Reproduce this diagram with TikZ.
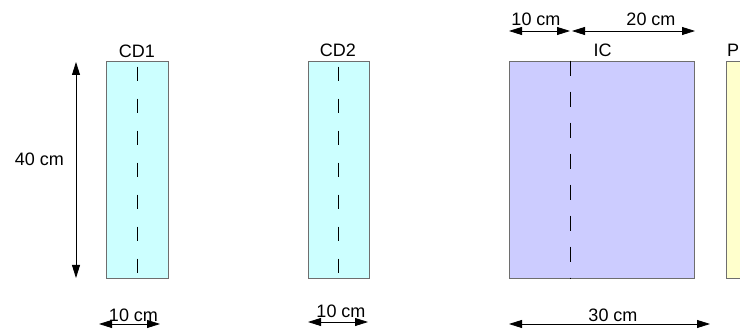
\documentclass[tikz,border=0pt]{standalone}
\usepackage{fontspec}
\setmainfont{Liberation Sans}
\usetikzlibrary{arrows.meta}
\definecolor{cdfill}{RGB}{204,255,255}
\definecolor{icfill}{RGB}{204,204,255}
\definecolor{pfill}{RGB}{255,255,204}
\definecolor{boxline}{RGB}{110,110,110}
\begin{document}
\begin{tikzpicture}[x=1pt, y=1pt, font=\fontsize{18}{21}\selectfont,
    box/.style = {draw=boxline, line width=0.8pt, minimum height=217pt, inner sep=0pt},
    mid/.style = {line width=0.9pt, dash pattern=on 14pt off 18pt, dash phase=26pt},
    dim/.style = {line width=0.8pt, {Triangle[length=13pt,width=8pt]}-{Triangle[length=13pt,width=8pt]}}]
    \clip (0,0) rectangle (740,331);
    % the four boxes
    \node[box, fill=cdfill, minimum width=62pt] (cd1) at (137,161.5) {};
    \node[box, fill=cdfill, minimum width=61pt] (cd2) at (338.5,161.5) {};
    \node[box, fill=icfill, minimum width=185pt] (ic) at (601.5,161.5) {};
    \node[box, fill=pfill, minimum width=74pt] (p) at (763,161.5) {};
    \draw[mid] (cd1.north) -- (cd1.south);
    \draw[mid] (cd2.north) -- (cd2.south);
    \draw[mid, dash pattern=on 15pt off 16pt, dash phase=0pt] ([xshift=62pt]ic.north west) -- ([xshift=62pt]ic.south west);
    % names
    \node (cd1name) at (137,280) {CD1};
    \node (cd2name) at (338,281) {CD2};
    \node (icname) at (602.5,281) {IC};
    \node (pname) at (733,281) {P};
    % dimensions
    \coordinate (htop) at (76,269);
    \coordinate (hbot) at (76,53);
    \draw[dim] (htop) -- (hbot);
    \node (hlab) at (39.5,171.5) {40 cm};
    \coordinate (a1) at (509,300);
    \coordinate (a2) at (570,300);
    \coordinate (a3) at (572,300);
    \coordinate (a4) at (695,300);
    \draw[dim] (a1) -- (a2);
    \draw[dim] (a3) -- (a4);
    \node (alab1) at (536,311.5) {10 cm};
    \node (alab2) at (651,311.5) {20 cm};
    \coordinate (b1) at (99,7);
    \coordinate (b2) at (160,7);
    \draw[dim] (b1) -- (b2);
    \node (blab1) at (133.5,16) {10 cm};
    \coordinate (c1) at (308,9);
    \coordinate (c2) at (368,9);
    \draw[dim] (c1) -- (c2);
    \node (clab) at (341,20) {10 cm};
    \coordinate (d1) at (509,7);
    \coordinate (d2) at (710,7);
    \draw[dim] (d1) -- (d2);
    \node (dlab) at (613,16) {30 cm};
\end{tikzpicture}
\end{document}
